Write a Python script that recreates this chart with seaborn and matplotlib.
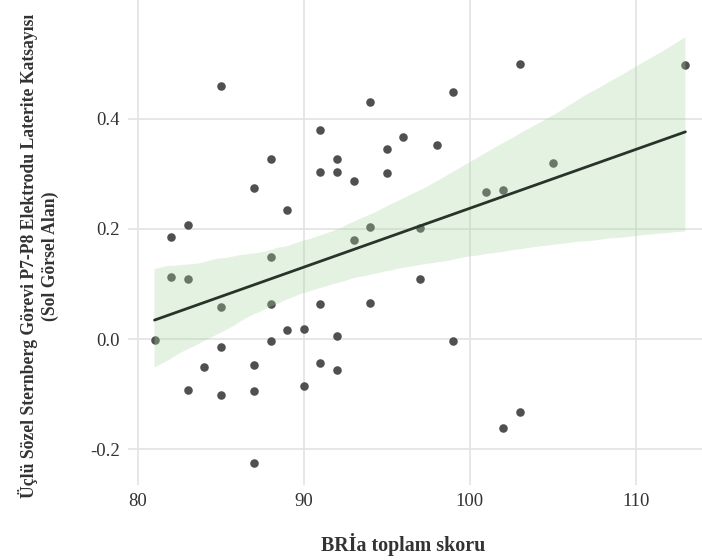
import numpy as np
import pandas as pd
import matplotlib
matplotlib.use("Agg")
import matplotlib.pyplot as plt
import seaborn as sns

bria = [85, 94, 91, 96, 95, 88, 92, 91, 92, 93, 95, 87, 89, 82, 83, 88, 93, 94,
        82, 83, 97, 103, 99, 98, 105, 101, 102, 97, 113, 85, 88, 91, 94, 81, 85,
        88, 89, 90, 92, 84, 87, 91, 92, 83, 85, 87, 90, 87, 99, 103, 102]
lateralite = [0.46, 0.43, 0.38, 0.368, 0.345, 0.327, 0.327, 0.304, 0.304, 0.288,
              0.301, 0.274, 0.235, 0.186, 0.207, 0.15, 0.18, 0.204, 0.113, 0.109,
              0.11, 0.5, 0.448, 0.353, 0.32, 0.267, 0.27, 0.202, 0.498, 0.059,
              0.063, 0.064, 0.065, -0.002, -0.015, -0.004, 0.017, 0.019, 0.006,
              -0.051, -0.047, -0.043, -0.056, -0.092, -0.101, -0.095, -0.085,
              -0.225, -0.004, -0.133, -0.162]
x_ticks = [80, 90, 100, 110]
y_ticks = [-0.2, 0.0, 0.2, 0.4]

df = pd.DataFrame({"x": bria, "y": lateralite})

sns.set_theme(style="whitegrid")
plt.rcParams["font.family"] = ["Liberation Serif", "DejaVu Serif"]
plt.rcParams["axes.unicode_minus"] = False


# choose a bootstrap seed whose confidence band resembles the reference
def band_ends(seed):
    f, a = plt.subplots()
    sns.regplot(data=df, x="x", y="y", ax=a, seed=seed)
    v = a.collections[1].get_paths()[0].vertices
    xmin, xmax = v[:, 0].min(), v[:, 0].max()
    lo = v[np.isclose(v[:, 0], xmin)][:, 1]
    hi = v[np.isclose(v[:, 0], xmax)][:, 1]
    plt.close(f)
    return lo.min(), lo.max(), hi.min(), hi.max()


target = np.array([-0.058, 0.129, 0.213, 0.54])
best_seed, best_err = 0, 1e9
for sd in range(40):
    err = np.abs(np.array(band_ends(sd)) - target).sum()
    if err < best_err:
        best_seed, best_err = sd, err

fig = plt.figure(figsize=(7.02, 5.60), dpi=100)
ax = fig.add_axes([0.1823, 0.134, 0.8177, 0.866])

sns.regplot(data=df, x="x", y="y", ax=ax, seed=best_seed,
            scatter_kws=dict(color="#505050", s=38, alpha=1, linewidths=0),
            line_kws=dict(color="#2a332a", lw=2))
for coll in ax.collections[1:]:
    coll.set_facecolor("#a8d5a0")
    coll.set_alpha(0.3)
    coll.set_edgecolor("none")

ax.set_xlim(79.4, 114.0)
ax.set_ylim(-0.265, 0.616)
ax.set_xticks(x_ticks)
ax.set_xticklabels([str(t) for t in x_ticks])
ax.set_yticks(y_ticks)
ax.set_yticklabels([f"{t:.1f}" for t in y_ticks])

for s in ax.spines.values():
    s.set_visible(False)
ax.grid(True, color="#e3e3e3", lw=1.2)
ax.tick_params(axis="both", which="both", length=0,
               labelsize=13.5, labelcolor="#333333")
ax.tick_params(axis="x", pad=6)
ax.tick_params(axis="y", pad=6)

ax.set_xlabel("BRİa toplam skoru", fontsize=14.4, fontweight="bold",
              color="#333333")
ax.xaxis.set_label_coords(0.479, -0.099)
ax.set_ylabel("Üçlü Sözel Sternberg Görevi P7-P8 Elektrodu Laterite Katsayısı\n(Sol Görsel Alan)",
              fontsize=12.7, fontweight="bold", color="#333333",
              linespacing=1.25)
ax.yaxis.set_label_coords(-0.12, 0.472)

fig.savefig("out.png", dpi=100)
